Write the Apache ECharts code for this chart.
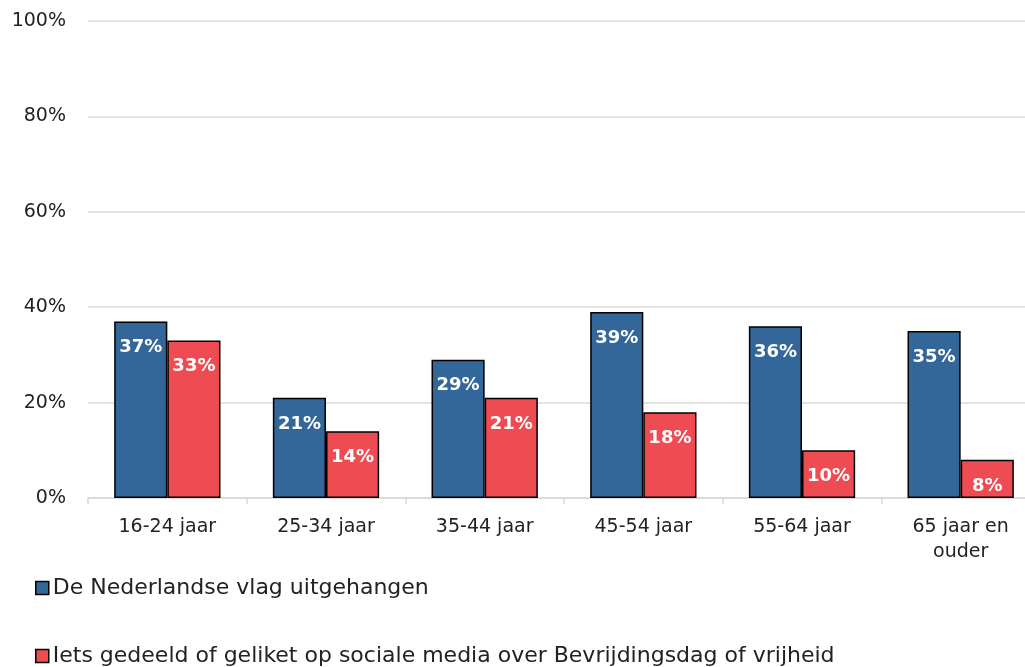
<!DOCTYPE html>
<html>
<head>
<meta charset="utf-8">
<script src="https://cdn.jsdelivr.net/npm/echarts@6/dist/echarts.min.js"></script>
<style>
  html, body { margin: 0; padding: 0; background: #fff; }
  #chart { width: 1025px; height: 667px; }
</style>
</head>
<body>
<div id="chart"></div>
<script>
// Leeftijdsgroepen en percentages per activiteit
const categories = ['16-24 jaar', '25-34 jaar', '35-44 jaar', '45-54 jaar', '55-64 jaar', '65 jaar en\nouder'];
const seriesNames = [
  'De Nederlandse vlag uitgehangen',
  'Iets gedeeld of geliket op sociale media over Bevrijdingsdag of vrijheid'
];
const vlagValues = [37, 21, 29, 39, 36, 35];
const socialeMediaValues = [33, 14, 21, 18, 10, 8];
const yTicks = [0, 20, 40, 60, 80, 100];

const fontFamily = '"DejaVu Sans", Verdana, sans-serif';
const colors = ['#336699', '#EF4B53'];

const chart = echarts.init(document.getElementById('chart'), null, { renderer: 'canvas' });

function barSeries(name, data, color) {
  return {
    name: name,
    type: 'bar',
    data: data,
    barGap: '0%',
    barCategoryGap: '33%',
    itemStyle: { color: color, borderColor: '#000', borderWidth: 1.5 },
    label: {
      show: true,
      position: 'insideTop',
      distance: 17,
      color: '#fff',
      fontWeight: 'bold',
      fontSize: 18,
      fontFamily: fontFamily,
      formatter: p => p.value + '%'
    }
  };
}

function legendFor(name, top) {
  return {
    orient: 'vertical',
    left: 30,
    top: top,
    itemWidth: 13,
    itemHeight: 13,
    itemGap: 0,
    icon: 'rect',
    itemStyle: { borderColor: '#000', borderWidth: 1.5 },
    textStyle: { fontSize: 22, color: '#222', fontFamily: fontFamily, padding: [0, 0, 0, -1] },
    data: [name]
  };
}

chart.setOption({
  animation: false,
  color: colors,
  grid: { left: 88, top: 21, right: -15, height: 477, containLabel: false, outerBoundsMode: 'none' },
  legend: [legendFor(seriesNames[0], 572), legendFor(seriesNames[1], 640)],
  xAxis: {
    type: 'category',
    data: categories,
    axisLine: { lineStyle: { color: '#d9d9d9', width: 1.5 } },
    axisTick: { show: true, length: 6, lineStyle: { color: '#d9d9d9', width: 1.5 } },
    axisLabel: { fontSize: 19, color: '#222', fontFamily: fontFamily, margin: 17, lineHeight: 25 }
  },
  yAxis: {
    type: 'value',
    min: yTicks[0],
    max: yTicks[yTicks.length - 1],
    interval: yTicks[1] - yTicks[0],
    axisLine: { show: false },
    axisTick: { show: false },
    splitLine: { lineStyle: { color: '#d9d9d9', width: 1.5 } },
    axisLabel: { fontSize: 19, color: '#222', fontFamily: fontFamily, margin: 22, formatter: v => v + '%' }
  },
  series: [
    barSeries(seriesNames[0], vlagValues, colors[0]),
    barSeries(seriesNames[1], socialeMediaValues, colors[1])
  ]
});
</script>
</body>
</html>
